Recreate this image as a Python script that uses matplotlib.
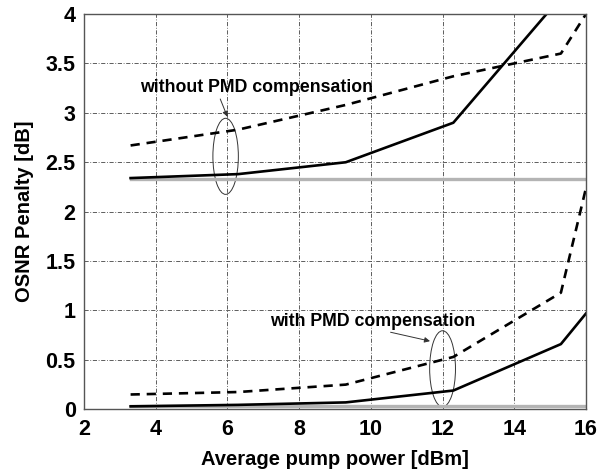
import matplotlib.pyplot as plt
from matplotlib.patches import Ellipse

plt.rcParams['font.family'] = ['Liberation Sans', 'DejaVu Sans']
plt.rcParams['font.weight'] = 'bold'

pump_power = [3.3, 6.3, 9.3, 12.3, 15.3, 16.0]

without_solid = [2.34, 2.38, 2.50, 2.90, 4.17, 4.5]
without_dashed = [2.67, 2.83, 3.08, 3.37, 3.60, 4.0]
without_ref = [2.33, 2.33, 2.33, 2.33, 2.33, 2.33]

with_solid = [0.03, 0.045, 0.07, 0.19, 0.66, 0.97]
with_dashed = [0.15, 0.175, 0.25, 0.53, 1.18, 2.24]
with_ref = [0.03, 0.03, 0.03, 0.03, 0.03, 0.03]

xticks = [2, 4, 6, 8, 10, 12, 14, 16]
yticks = [0, 0.5, 1, 1.5, 2, 2.5, 3, 3.5, 4]
ytick_labels = ["0", "0.5", "1", "1.5", "2", "2.5", "3", "3.5", "4"]


def make_plot():
    fig = plt.figure(figsize=(5.99, 4.72), dpi=100)
    ax = fig.add_axes([0.1402, 0.1328, 0.8381, 0.8375])

    dash = (0, (3.5, 2.6))
    ax.plot(pump_power, without_ref, color="#b4b4b4", lw=2.4)
    ax.plot(pump_power, with_ref, color="#b4b4b4", lw=2.4)
    ax.plot(pump_power, without_solid, color="black", lw=1.9)
    ax.plot(pump_power, without_dashed, color="black", lw=1.9, ls=dash)
    ax.plot(pump_power, with_solid, color="black", lw=1.9)
    ax.plot(pump_power, with_dashed, color="black", lw=1.9, ls=dash)

    ax.set_xlim(2, 16)
    ax.set_ylim(0, 4)
    ax.set_xticks(xticks)
    ax.set_yticks(yticks)
    ax.set_yticklabels(ytick_labels)
    ax.tick_params(axis='y', labelsize=15.5, length=0, pad=6)
    ax.tick_params(axis='x', labelsize=15.5, length=0, pad=7)
    for lab in ax.get_xticklabels() + ax.get_yticklabels():
        lab.set_fontweight('bold')
    ax.grid(True, color="#444444", ls=(0, (5, 2, 1, 2)), lw=0.6)
    for s in ax.spines.values():
        s.set_color("#555555")
        s.set_linewidth(1.0)

    ax.set_xlabel("Average pump power [dBm]", fontsize=14.5, fontweight='bold', labelpad=7)
    ax.set_ylabel("OSNR Penalty [dB]", fontsize=14.5, fontweight='bold', labelpad=8)

    ax.add_patch(Ellipse((5.95, 2.56), 0.71, 0.77, fill=False, lw=0.7, color="#333333"))
    ax.add_patch(Ellipse((12.0, 0.41), 0.72, 0.77, fill=False, lw=0.7, color="#333333"))

    ax.text(6.81, 3.26, "without PMD compensation", fontsize=12.8, fontweight='bold',
            ha='center', va='center')
    ax.text(10.05, 0.89, "with PMD compensation", fontsize=12.8, fontweight='bold',
            ha='center', va='center')
    arrow = dict(arrowstyle="-|>", lw=0.7, color="#333333", shrinkA=0, shrinkB=0,
                 mutation_scale=8)
    ax.annotate("", xy=(6.0, 2.96), xytext=(5.8, 3.14), arrowprops=arrow)
    ax.annotate("", xy=(11.65, 0.69), xytext=(10.55, 0.78), arrowprops=arrow)

    fig.savefig("out.png", dpi=100)


if __name__ == '__main__':
    make_plot()
